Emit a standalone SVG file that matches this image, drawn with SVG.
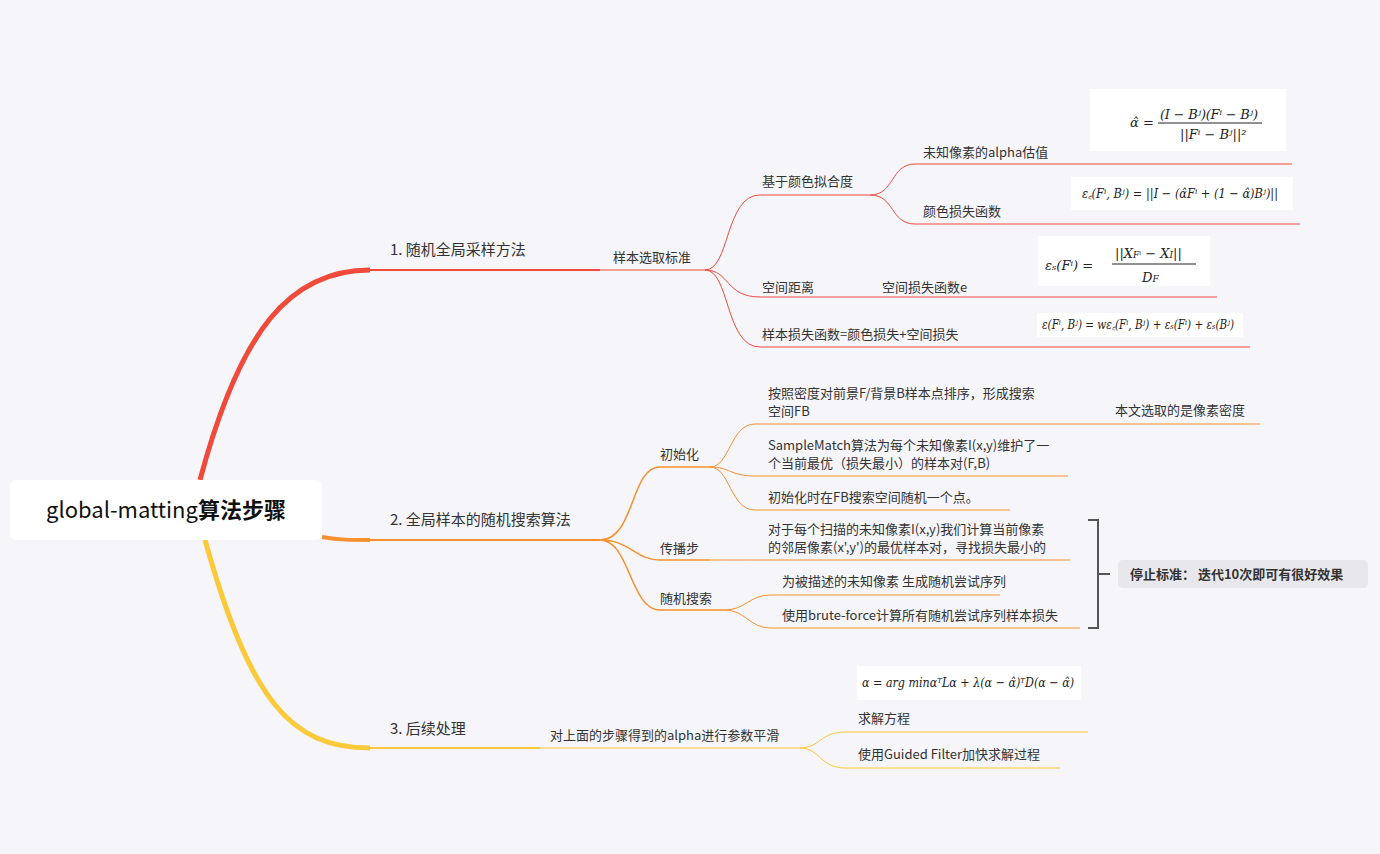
<svg xmlns="http://www.w3.org/2000/svg" width="1380" height="854" viewBox="0 0 1380 854">
<style>
text{font-family:"Noto Sans CJK SC","Noto Sans",sans-serif;font-size:13px;fill:#333}
.b{font-size:15px}
.f{font-family:"DejaVu Serif",serif;font-style:italic;fill:#222}
.r{stroke:#f04a3a;fill:none}
.o{stroke:#f7902e;fill:none}
.y{stroke:#fbc93a;fill:none}
.w{fill:#fff}
</style>
<rect width="1380" height="854" fill="#f5f5fa"/>
<g id="connectors">
<path class="r" stroke-width="5" d="M200 480 C240 330 290 270 370 270"/>
<path class="r" stroke-width="2" d="M370 270 H600"/>
<path class="r" d="M600 270 H705 C730 270 725 195 760 195 H870 M705 270 C730 270 725 297 760 297 H1217 M705 270 C730 270 725 347 760 347 H1250"/>
<path class="r" d="M870 195 C895 195 890 164 915 164 H1292 M870 195 C895 195 890 224 915 224 H1300"/>
<path class="o" stroke-width="4" d="M322 537 C340 540 350 540 370 540"/>
<path class="o" stroke-width="2" d="M370 540 H600"/>
<path class="o" stroke-width="1.5" d="M600 540 C635 540 630 467 660 467 H710 M600 540 C630 540 635 560 660 560 H710 M600 540 C630 540 630 610 660 610 H725"/>
<path class="o" d="M710 467 C730 467 730 424 755 424 H1260 M710 467 C730 467 730 476 755 476 H1068 M710 467 C730 467 730 510 755 510 H1010"/>
<path class="o" d="M710 560 C730 560 740 560 760 560 H1070"/>
<path class="o" d="M725 610 C745 610 750 595 770 595 H1000 M725 610 C745 610 750 628 770 628 H1080"/>
<path class="y" stroke-width="5" d="M205 540 C250 700 290 748 370 748"/>
<path class="y" stroke-width="2" d="M370 748 H540"/>
<path class="y" d="M540 748 H800 C820 748 820 732 845 732 H1088 M800 748 C820 748 820 768 845 768 H1060"/>
<path fill="none" stroke="#555" stroke-width="2" d="M1088 520 H1098 V628 H1088 M1098 574 H1110"/>
</g>
<g id="root"><rect x="10" y="480" width="312" height="60" rx="6" class="w"/><text x="166" y="518" text-anchor="middle" style="font-size:22px;fill:#111">global-matting<tspan font-weight="bold">算法步骤</tspan></text></g>
<g id="n1"><text class="b" x="390" y="255">1. 随机全局采样方法</text></g>
<g id="n11"><text x="613" y="262">样本选取标准</text></g>
<g id="n111"><text x="762" y="186">基于颜色拟合度</text></g>
<g id="n1111"><text x="923" y="157">未知像素的alpha估值</text></g>
<g id="f1"><rect x="1090" y="89" width="196" height="62" class="w"/><text class="f" x="1130" y="127" font-size="12">α̂ =</text><text class="f" x="1160" y="119" font-size="11" textLength="98">(I − Bʲ)(Fⁱ − Bʲ)</text><line x1="1158" y1="123" x2="1262" y2="123" stroke="#222"/><text class="f" x="1180" y="139" font-size="11">||Fⁱ − Bʲ||²</text></g>
<g id="n1112"><text x="923" y="216">颜色损失函数</text></g>
<g id="f2"><rect x="1071" y="177" width="222" height="33" class="w"/><text class="f" x="1082" y="198" font-size="10" textLength="196" lengthAdjust="spacingAndGlyphs">ε꜀(Fⁱ, Bʲ) = ||I − (α̂Fⁱ + (1 − α̂)Bʲ)||</text></g>
<g id="n112"><text x="762" y="292">空间距离</text></g>
<g id="n1121"><text x="882" y="292">空间损失函数e</text></g>
<g id="f3"><rect x="1038" y="236" width="172" height="50" class="w"/><text class="f" x="1045" y="270" font-size="14">εₛ(Fⁱ) =</text><text class="f" x="1115" y="258" font-size="14">||X<tspan font-size="9">Fⁱ</tspan> − X<tspan font-size="9">I</tspan>||</text><line x1="1112" y1="264" x2="1196" y2="264" stroke="#222"/><text class="f" x="1142" y="282" font-size="14">D<tspan font-size="9">F</tspan></text></g>
<g id="n113"><text x="762" y="339">样本损失函数=颜色损失+空间损失</text></g>
<g id="f4"><rect x="1037" y="313" width="206" height="24" class="w"/><text class="f" x="1042" y="329" font-size="8.5" textLength="192" lengthAdjust="spacingAndGlyphs">ε(Fⁱ, Bʲ) = wε꜀(Fⁱ, Bʲ) + εₛ(Fⁱ) + εₛ(Bʲ)</text></g>
<g id="n2"><text class="b" x="390" y="525">2. 全局样本的随机搜索算法</text></g>
<g id="n21"><text x="660" y="459">初始化</text></g>
<g id="n211"><text x="768" y="398">按照密度对前景F/背景B样本点排序，形成搜索</text><text x="768" y="416">空间FB</text></g>
<g id="n2111"><text x="1115" y="415">本文选取的是像素密度</text></g>
<g id="n212"><text x="768" y="450">SampleMatch算法为每个未知像素I(x,y)维护了一</text><text x="768" y="468">个当前最优（损失最小）的样本对(F,B)</text></g>
<g id="n213"><text x="768" y="502">初始化时在FB搜索空间随机一个点。</text></g>
<g id="n22"><text x="660" y="553">传播步</text></g>
<g id="n221"><text x="768" y="534">对于每个扫描的未知像素I(x,y)我们计算当前像素</text><text x="768" y="552">的邻居像素(x',y')的最优样本对，寻找损失最小的</text></g>
<g id="n23"><text x="660" y="603">随机搜索</text></g>
<g id="n231"><text x="782" y="586">为被描述的未知像素 生成随机尝试序列</text></g>
<g id="n232"><text x="782" y="620">使用brute-force计算所有随机尝试序列样本损失</text></g>
<g id="stop"><rect x="1118" y="560" width="250" height="28" rx="5" fill="#e8e8ec"/><text x="1130" y="579" font-weight="bold">停止标准： 迭代10次即可有很好效果</text></g>
<g id="n3"><text class="b" x="390" y="734">3. 后续处理</text></g>
<g id="n31"><text x="550" y="740">对上面的步骤得到的alpha进行参数平滑</text></g>
<g id="f5"><rect x="857" y="666" width="224" height="34" class="w"/><text class="f" x="862" y="687" font-size="10" textLength="212" lengthAdjust="spacingAndGlyphs">α = arg   minαᵀLα + λ(α − α̂)ᵀD(α − α̂)</text></g>
<g id="n311"><text x="858" y="723">求解方程</text></g>
<g id="n312"><text x="858" y="759">使用Guided Filter加快求解过程</text></g>
</svg>
